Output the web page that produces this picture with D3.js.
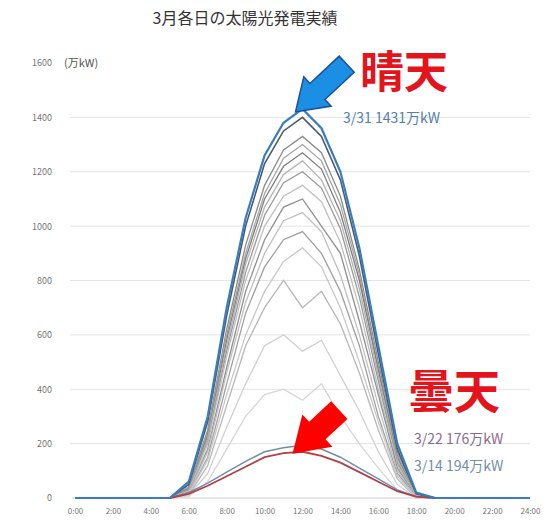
<!DOCTYPE html>
<html>
<head>
<meta charset="utf-8">
<script src="https://cdn.jsdelivr.net/npm/d3@7"></script>
<style>
  body { margin: 0; background: #fff; }
  text { font-family: "Noto Sans CJK JP", "Noto Sans", sans-serif; }
</style>
</head>
<body>
<div id="chart"></div>
<script>
// hourly output, 万kW
const hours = d3.range(0, 25);
const xTicks = [0, 2, 4, 6, 8, 10, 12, 14, 16, 18, 20, 22, 24];
const yTicks = [0, 200, 400, 600, 800, 1000, 1200, 1400, 1600];

const clear31 = [0,0,0,0,0,0,60,300,700,1030,1260,1380,1431,1360,1200,920,560,200,20,0,0,0,0,0,0];
const clear30 = [0,0,0,0,0,0,50,280,670,1000,1230,1350,1400,1330,1170,890,530,180,15,0,0,0,0,0,0];

const greyDays = [
  [0,0,0,0,0,0,40,250,620,930,1150,1280,1330,1270,1110,840,500,170,15,0,0,0,0,0,0],
  [0,0,0,0,0,0,40,240,600,900,1120,1250,1300,1240,1080,820,480,160,12,0,0,0,0,0,0],
  [0,0,0,0,0,0,35,230,580,880,1100,1220,1270,1210,1050,800,470,150,10,0,0,0,0,0,0],
  [0,0,0,0,0,0,30,220,560,860,1070,1190,1240,1170,1020,770,450,140,10,0,0,0,0,0,0],
  [0,0,0,0,0,0,30,210,540,830,1040,1160,1200,1140,990,740,430,130,8,0,0,0,0,0,0],
  [0,0,0,0,0,0,25,200,520,800,1000,1110,1150,1090,940,700,400,120,8,0,0,0,0,0,0],
  [0,0,0,0,0,0,20,180,480,760,950,1070,1100,1000,900,650,380,110,5,0,0,0,0,0,0],
  [0,0,0,0,0,0,20,170,460,720,900,1020,1050,980,820,600,340,100,5,0,0,0,0,0,0],
  [0,0,0,0,0,0,15,150,420,680,850,950,980,900,760,560,300,90,5,0,0,0,0,0,0],
  [0,0,0,0,0,0,15,140,380,600,760,870,920,850,700,500,280,80,5,0,0,0,0,0,0],
  [0,0,0,0,0,0,10,120,340,560,700,800,700,760,640,460,250,70,0,0,0,0,0,0,0],
  [0,0,0,0,0,0,10,90,260,420,560,600,540,580,450,320,170,50,0,0,0,0,0,0,0],
  [0,0,0,0,0,0,5,60,180,300,380,400,360,420,300,200,110,30,0,0,0,0,0,0,0]
];
const greyColors = ["#8c8c8c", "#a6a6a6", "#7f7f7f", "#b3b3b3", "#999999", "#c0c0c0", "#8f8f8f",
  "#bfbfbf", "#a0a0a0", "#c8c8c8", "#b8b8b8", "#d0d0d0", "#d6d6d6"];

const cloudy22 = [0,0,0,0,0,0,15,45,80,115,150,165,170,155,130,95,60,25,5,0,0,0,0,0,0];
const cloudy14 = [0,0,0,0,0,0,20,55,95,135,170,185,194,180,150,110,70,30,5,0,0,0,0,0,0];

const width = 551, height = 523;
const svg = d3.select("#chart").append("svg")
  .attr("width", width).attr("height", height);

const x = d3.scaleLinear().domain([0, 24]).range([75, 530]);
const y = d3.scaleLinear().domain([0, 1600]).range([498, 63]);

// title
svg.append("text")
  .attr("x", 245).attr("y", 24)
  .attr("text-anchor", "middle")
  .attr("font-size", 16)
  .attr("fill", "#333")
  .text("3月各日の太陽光発電実績");

// grid
svg.append("g").selectAll("line")
  .data(yTicks.filter(d => d > 0 && d < 1600))
  .enter().append("line")
  .attr("x1", 70).attr("x2", 530)
  .attr("y1", d => y(d)).attr("y2", d => y(d))
  .attr("stroke", "#e4e4e4");

// y labels
const yAxis = d3.axisLeft(y).tickValues(yTicks).tickSize(0).tickPadding(0)
  .tickFormat(d3.format("d"));
const ya = svg.append("g").attr("transform", "translate(52,0)").call(yAxis);
ya.select(".domain").remove();
ya.selectAll("text").attr("font-size", 9).attr("fill", "#777")
  .style("font-family", "'Noto Sans CJK JP', sans-serif");
svg.append("text")
  .attr("x", 64).attr("y", y(1600) + 4)
  .attr("font-size", 11).attr("fill", "#555")
  .text("(万kW)");

// x labels
const xAxis = d3.axisBottom(x).tickValues(xTicks).tickSize(0).tickPadding(0)
  .tickFormat(d => d + ":00");
const xa = svg.append("g").attr("transform", `translate(0,${y(0) + 10})`).call(xAxis);
xa.select(".domain").remove();
xa.selectAll("text").attr("font-size", 8).attr("fill", "#777")
  .style("font-family", "'Noto Sans CJK JP', sans-serif");

svg.append("line")
  .attr("x1", 72).attr("x2", 530)
  .attr("y1", y(0)).attr("y2", y(0))
  .attr("stroke", "#d0d0d0");

const line = d3.line()
  .x((d, i) => x(hours[i]))
  .y(d => y(d));

// grey days
greyDays.forEach((vals, i) => {
  svg.append("path")
    .datum(vals)
    .attr("d", line)
    .attr("fill", "none")
    .attr("stroke", greyColors[i])
    .attr("stroke-width", 1.3);
});

svg.append("path").datum(cloudy14).attr("d", line)
  .attr("fill", "none").attr("stroke", "#6f8fa8").attr("stroke-width", 1.5);
svg.append("path").datum(cloudy22).attr("d", line)
  .attr("fill", "none").attr("stroke", "#b0404a").attr("stroke-width", 1.8);

svg.append("path").datum(clear30).attr("d", line)
  .attr("fill", "none").attr("stroke", "#4a5a6e").attr("stroke-width", 1.6);
svg.append("path").datum(clear31).attr("d", line)
  .attr("fill", "none").attr("stroke", "#3a7dbd").attr("stroke-width", 2.2);

// block arrows, tip at origin pointing along -x
function arrowPath(L, h, w, s) {
  return `M0,0 L${h},${-w} L${h},${-s} L${L},${-s} L${L},${s} L${h},${s} L${h},${w} Z`;
}
svg.append("path")
  .attr("d", arrowPath(70, 30, 20, 11))
  .attr("transform", `translate(${x(12) - 7},${y(1431) + 3}) rotate(-43)`)
  .attr("fill", "#1a8fe3")
  .attr("stroke", "#1d4f99")
  .attr("stroke-width", 1.5);
svg.append("path")
  .attr("d", arrowPath(64, 34, 22, 12))
  .attr("transform", `translate(${x(12) - 10},${y(170) + 2}) rotate(-43)`)
  .attr("fill", "#ff0000");

// labels
svg.append("text")
  .attr("x", 360).attr("y", 88)
  .attr("font-size", 44).attr("font-weight", "bold")
  .attr("fill", "#e3141c")
  .text("晴天");
svg.append("text")
  .attr("x", 408).attr("y", 408)
  .attr("font-size", 46).attr("font-weight", "bold")
  .attr("fill", "#e3141c")
  .text("曇天");

svg.append("text")
  .attr("x", 343).attr("y", 123)
  .attr("font-size", 14).attr("fill", "#4f81ad")
  .text("3/31 1431万kW");
svg.append("text")
  .attr("x", 414).attr("y", 444)
  .attr("font-size", 14).attr("fill", "#8a6a95")
  .text("3/22 176万kW");
svg.append("text")
  .attr("x", 414).attr("y", 471)
  .attr("font-size", 14).attr("fill", "#6f8fa8")
  .text("3/14 194万kW");
</script>
</body>
</html>
